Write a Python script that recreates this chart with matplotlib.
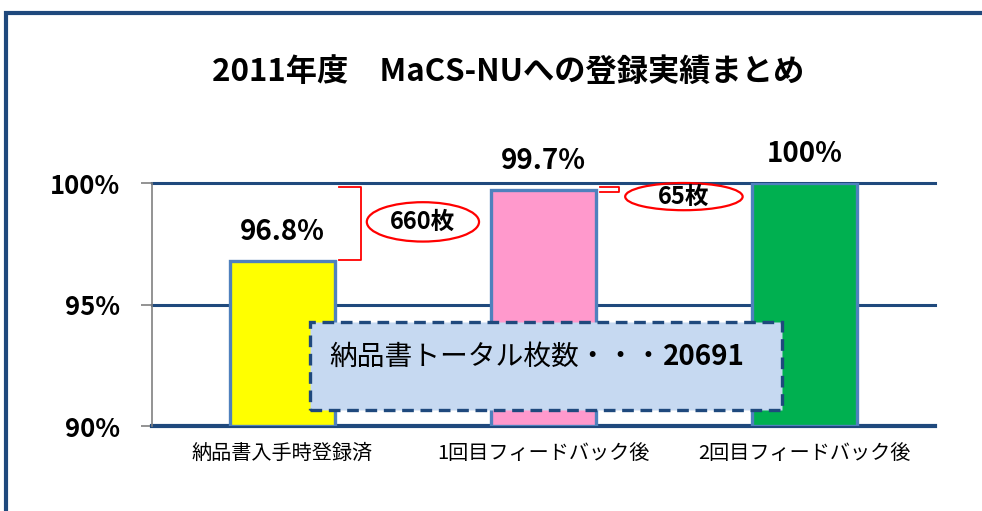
import matplotlib
matplotlib.use("Agg")
import matplotlib.pyplot as plt
from matplotlib.patches import Ellipse, Rectangle

plt.rcParams['font.family'] = ['Noto Sans CJK JP', 'DejaVu Sans']

categories = ['納品書入手時登録済', '1回目フィードバック後', '2回目フィードバック後']
values = [96.8, 99.7, 100.0]
value_labels = ['96.8%', '99.7%', '100%']
bar_colors = ['#FFFF00', '#FF99CC', '#00B050']
yticks = [90, 95, 100]
ytick_labels = ['90%', '95%', '100%']
title = '2011年度　MaCS-NUへの登録実績まとめ'
diff_labels = ['660枚', '65枚']
box_text = '納品書トータル枚数・・・'
box_number = '20691'

NAVY = '#1F497D'
EDGE = '#4F81BD'

fig = plt.figure(figsize=(9.82, 5.11), dpi=100)
# outer frame
fig.patches.append(Rectangle((6/982, -0.1), 1.2, 1 - 13/511 + 0.1, transform=fig.transFigure,
                             fill=False, edgecolor=NAVY, linewidth=3))

ax = fig.add_axes([152/982, 1 - 426/511, (935 - 152)/982, (426 - 183)/511])
x = list(range(len(categories)))
ax.bar(x, [v - 90 for v in values], bottom=90, width=0.4, color=bar_colors,
       edgecolor=EDGE, linewidth=2.4, zorder=3)
ax.set_xlim(-0.5, 2.5)
ax.set_ylim(90, 100)

for yv in yticks:
    ax.axhline(yv, color=NAVY, linewidth=2.2 if yv != 90 else 3, zorder=2, clip_on=False)

for s in ['top', 'right', 'bottom']:
    ax.spines[s].set_visible(False)
ax.spines['left'].set_color('#808080')
ax.spines['left'].set_linewidth(1.2)
ax.set_yticks(yticks)
ax.set_yticklabels(ytick_labels, fontsize=18.5, fontweight='bold')
ax.tick_params(axis='y', length=8, color='#808080', width=1.2, pad=15)
ax.set_xticks(x)
ax.set_xticklabels(categories, fontsize=14.5)
ax.tick_params(axis='x', length=0, pad=12)

for xi, v, lab in zip(x, values, value_labels):
    ax.annotate(lab, xy=(xi, v), xytext=(0, 21), textcoords='offset points',
                ha='center', va='center', fontsize=20, fontweight='bold', zorder=5)

# red brackets showing the gain
def bracket(x0, x1, ylo, yhi):
    ax.plot([x0, x1, x1, x0], [yhi, yhi, ylo, ylo], color='red', linewidth=1.3,
            zorder=4, clip_on=False)

bracket(0.215, 0.3, values[0] + 0.05, values[2] - 0.15)
bracket(1.215, 1.29, values[1] - 0.05, values[2] - 0.15)

ax.add_patch(Ellipse((0.538, 98.4), 0.43, 1.62, fill=False, edgecolor='red',
                     linewidth=1.6, zorder=4, clip_on=False))
ax.text(0.538, 98.4, diff_labels[0], ha='center', va='center', fontsize=17,
        fontweight='bold', zorder=5)
ax.add_patch(Ellipse((1.538, 99.44), 0.45, 1.12, fill=False, edgecolor='red',
                     linewidth=1.6, zorder=4, clip_on=False))
ax.text(1.538, 99.44, diff_labels[1], ha='center', va='center', fontsize=17,
        fontweight='bold', zorder=5)

# text box
ax.add_patch(Rectangle((0.107, 90.66), 1.912 - 0.107, 94.28 - 90.66,
                       facecolor='#C6D9F1', edgecolor=NAVY, linewidth=2.4,
                       linestyle=(0, (3.5, 2)), zorder=6))
t1 = ax.text(0.18, 92.85, box_text, ha='left', va='center', fontsize=20, zorder=7)
ax.annotate(box_number, xy=(1, 0.5), xycoords=t1, ha='left', va='center',
            fontsize=20, fontweight='bold', zorder=7)

fig.text(508/982, 1 - 72/511, title, ha='center', va='center', fontsize=22.5,
         fontweight='bold')

fig.savefig('out.png', dpi=100)
